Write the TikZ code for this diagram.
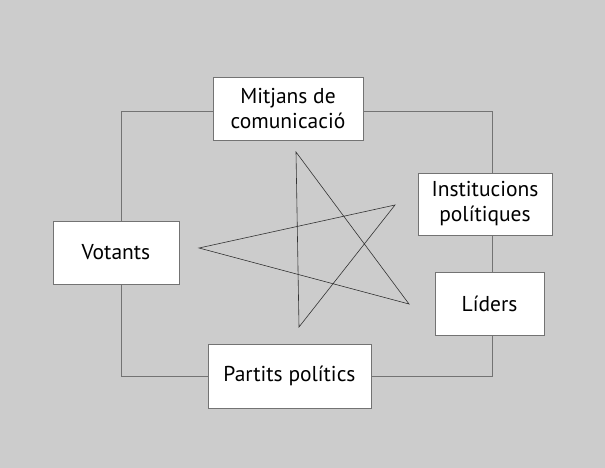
\documentclass[tikz,border=0pt]{standalone}
\usepackage{fontspec}
\setmainfont{PT Sans}
\begin{document}
\begin{tikzpicture}[x=1pt,y=-1pt,
  box/.style={draw=black!55,fill=white,line width=0.9pt,inner sep=0pt,align=center,font=\fontsize{21.5}{25}\selectfont},
  frame/.style={draw=black!55,line width=1pt},
  starline/.style={draw=black!80,line width=0.6pt}]
\fill[black!20] (0,0) rectangle (605,468);
\useasboundingbox (0,0) rectangle (605,468);
\coordinate (cTL) at (121,112);
\coordinate (cTR) at (492,112);
\coordinate (cBL) at (121,376);
\coordinate (cBR) at (492,376);
\node[box,minimum width=150,minimum height=63] (mit) at (288,108.5) {Mitjans de\\comunicació};
\node[box,minimum width=126,minimum height=63] (vot) at (116,252.5) {Votants};
\node[box,minimum width=134,minimum height=62] (ins) at (485,204) {Institucions\\polítiques};
\node[box,minimum width=109,minimum height=63] (lid) at (489.5,303.5) {Líders};
\node[box,minimum width=163,minimum height=64] (par) at (289.5,376) {Partits polítics};
% frame connectors
\draw[frame] (mit.west |- cTL) -- (cTL) -- (cTL |- vot.north);
\draw[frame] (mit.east |- cTR) -- (cTR) -- (cTR |- ins.north);
\draw[frame] (cTR |- ins.south) -- (cTR |- lid.north);
\draw[frame] (cTR |- lid.south) -- (cBR) -- (par.east |- cBR);
\draw[frame] (cBL |- vot.south) -- (cBL) -- (par.west |- cBL);
% star
\coordinate (s1) at (296,152);
\coordinate (s2) at (409,304);
\coordinate (s3) at (199,248);
\coordinate (s4) at (395,205);
\coordinate (s5) at (299,327);
\draw[starline] (s1) -- (s2) -- (s3) -- (s4) -- (s5) -- cycle;
\end{tikzpicture}
\end{document}
